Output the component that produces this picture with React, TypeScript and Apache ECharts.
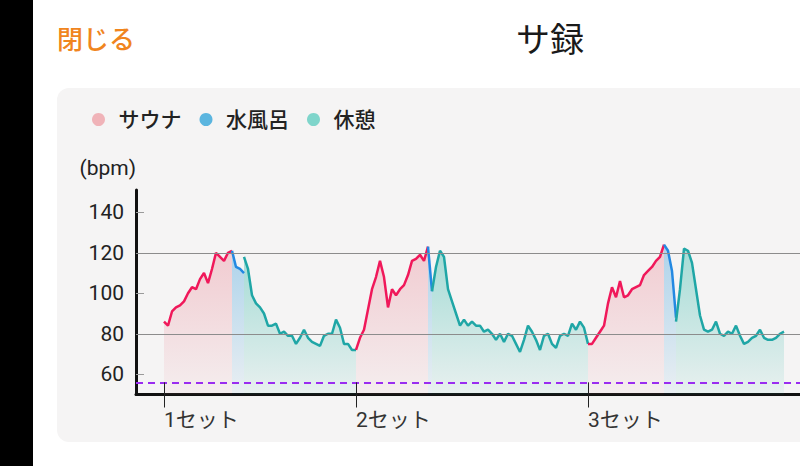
import React, { useEffect, useRef } from "react";
import * as echarts from "echarts";

// ---- data ----
const phaseNames = ["サウナ", "水風呂", "休憩"];
const setLabels = ["1セット", "2セット", "3セット"];
const yTicks = [60, 80, 100, 120, 140];
const zoneLines = [80, 120];
const restingHr = 56;

// heart rate (bpm), one value per sample; each segment starts on the last sample of the previous one
const set1Sauna = [86, 84, 91, 93, 94, 96, 100, 103, 102, 107, 110, 105, 112, 120, 118, 116, 120, 121];
const set1Water = [121, 113, 112, 110];
const set1Rest = [118, 112, 99, 95, 93, 90, 84, 84, 85, 80, 81, 79, 79, 75, 78, 82, 78, 76, 75, 74, 79, 80, 80, 87, 83, 75, 75, 72, 72];
const set2Sauna = [72, 78, 82, 92, 102, 108, 116, 108, 93, 102, 99, 102, 104, 109, 116, 117, 119, 116, 123];
const set2Water = [123, 101];
const set2Rest = [101, 113, 121, 118, 102, 96, 90, 84, 87, 84, 86, 84, 84, 81, 82, 80, 77, 80, 76, 80, 79, 75, 71, 77, 84, 81, 77, 72, 79, 80, 75, 73, 79, 80, 79, 85, 82, 86, 83, 75];
const set3Sauna = [75, 75, 78, 81, 84, 95, 103, 98, 106, 98, 99, 102, 103, 104, 109, 111, 113, 116, 118, 124];
const set3Water = [124, 121, 111, 88];
const set3Rest = [86, 102, 122, 121, 115, 102, 89, 82, 81, 82, 86, 80, 79, 81, 80, 84, 79, 75, 76, 78, 79, 82, 78, 77, 77, 78, 80, 81];

const sets = [
  [set1Sauna, set1Water, set1Rest],
  [set2Sauna, set2Water, set2Rest],
  [set3Sauna, set3Water, set3Rest],
];

// ---- styles ----
const FONT = "Roboto, 'Noto Sans CJK JP', sans-serif";
const lineColors = ["#f0185a", "#2389e2", "#1fa6a6"];
const legendColors = ["#f0b3b8", "#5bb5df", "#7fd5cb"];
const fillRgb = ["236,150,162", "80,168,222", "62,188,174"];

function buildOption() {
  let t = 0;
  const setStarts: number[] = [];
  const series: any[] = [];
  sets.forEach((phases) => {
    setStarts.push(t);
    phases.forEach((vals, pi) => {
      const start = t;
      const data = vals.map((v, i) => [start + i, v]);
      t = start + vals.length - 1;
      series.push({
        type: "line",
        name: phaseNames[pi],
        data,
        symbol: "none",
        showSymbol: false,
        lineStyle: { color: lineColors[pi], width: 2.5 },
        itemStyle: { color: legendColors[pi] },
        areaStyle: {
          color: new echarts.graphic.LinearGradient(0, 0, 0, 1, [
            { offset: 0, color: `rgba(${fillRgb[pi]},0.62)` },
            { offset: 1, color: `rgba(${fillRgb[pi]},0.1)` },
          ]),
        },
        emphasis: { disabled: true },
        z: 2,
      });
    });
  });

  const markData: any[] = [
    ...zoneLines.map((v) => ({ yAxis: v, lineStyle: { color: "#8c8c8c", width: 1, type: "solid" } })),
    { yAxis: restingHr, lineStyle: { color: "#9a2cf0", width: 2, type: [7, 5] } },
    ...setStarts.map((s) => [
      { coord: [s, 50], lineStyle: { color: "#222", width: 1, type: "solid" } },
      { coord: [s, restingHr] },
    ]),
  ];
  series.push({
    type: "line",
    name: "marks",
    data: [],
    silent: true,
    markLine: {
      silent: true,
      symbol: ["none", "none"],
      label: { show: false },
      emphasis: { disabled: true },
      data: markData,
    },
    z: 5,
  });

  return {
    animation: false,
    backgroundColor: "transparent",
    textStyle: { fontFamily: FONT },
    legend: {
      data: phaseNames.map((n, i) => ({ name: n, itemStyle: { color: legendColors[i] } })),
      icon: "circle",
      left: 30,
      top: 16,
      itemWidth: 30,
      itemHeight: 13,
      itemGap: 18,
      itemStyle: { borderWidth: 0 },
      selectedMode: false,
      textStyle: { fontSize: 21, color: "#222", fontFamily: FONT, fontWeight: 500 },
    },
    grid: {
      left: 79,
      top: 102,
      width: 668,
      height: 204.5,
      containLabel: false,
      outerBoundsMode: "none",
    },
    xAxis: {
      type: "value",
      min: -7,
      max: 160,
      axisLine: { show: true, onZero: false, lineStyle: { color: "#111", width: 3 } },
      axisTick: { show: true, customValues: setStarts, length: 13, lineStyle: { color: "#222", width: 1 } },
      axisLabel: {
        customValues: setStarts,
        formatter: (v: number) => setLabels[setStarts.indexOf(v)] ?? "",
        align: "left",
        fontSize: 21,
        color: "#333",
        margin: 15,
        fontFamily: FONT,
      },
      splitLine: { show: false },
    },
    yAxis: {
      type: "value",
      min: 50,
      max: 151,
      name: "(bpm)",
      nameLocation: "end",
      nameGap: 12,
      nameTextStyle: { align: "right", fontSize: 21, color: "#222", fontFamily: FONT },
      axisLine: { show: true, onZero: false, lineStyle: { color: "#111", width: 3 } },
      axisTick: { show: true, inside: true, length: 8, customValues: yTicks, lineStyle: { color: "#9a9a9a", width: 1 } },
      axisLabel: { customValues: yTicks, fontSize: 21, color: "#222", margin: 12, fontFamily: FONT },
      splitLine: { show: false },
    },
    series,
  };
}

export default function App() {
  const ref = useRef<HTMLDivElement>(null);
  useEffect(() => {
    if (!ref.current) return;
    const chart = echarts.init(ref.current, null, { renderer: "svg" });
    chart.setOption(buildOption() as any);
    return () => chart.dispose();
  }, []);

  return (
    <div
      style={{
        position: "fixed",
        left: 0,
        top: 0,
        width: 800,
        height: 466,
        overflow: "hidden",
        background: "#ffffff",
        fontFamily: FONT,
      }}
    >
      <div style={{ position: "absolute", left: 0, top: 0, width: 33, height: 466, background: "#000" }} />
      <div
        style={{
          position: "absolute",
          left: 57,
          top: 22,
          fontSize: 26,
          fontWeight: 500,
          color: "#f0851e",
          lineHeight: "36px",
          whiteSpace: "nowrap",
        }}
      >
        閉じる
      </div>
      <div
        style={{
          position: "absolute",
          left: 450,
          width: 200,
          top: 18,
          textAlign: "center",
          fontSize: 34,
          color: "#1a1a1a",
          lineHeight: "44px",
          whiteSpace: "nowrap",
        }}
      >
        サ録
      </div>
      <div
        style={{
          position: "absolute",
          left: 57,
          top: 88,
          width: 800,
          height: 354,
          background: "#f5f4f4",
          borderRadius: 12,
        }}
      />
      <div ref={ref} style={{ position: "absolute", left: 57, top: 88, width: 760, height: 350 }} />
    </div>
  );
}
